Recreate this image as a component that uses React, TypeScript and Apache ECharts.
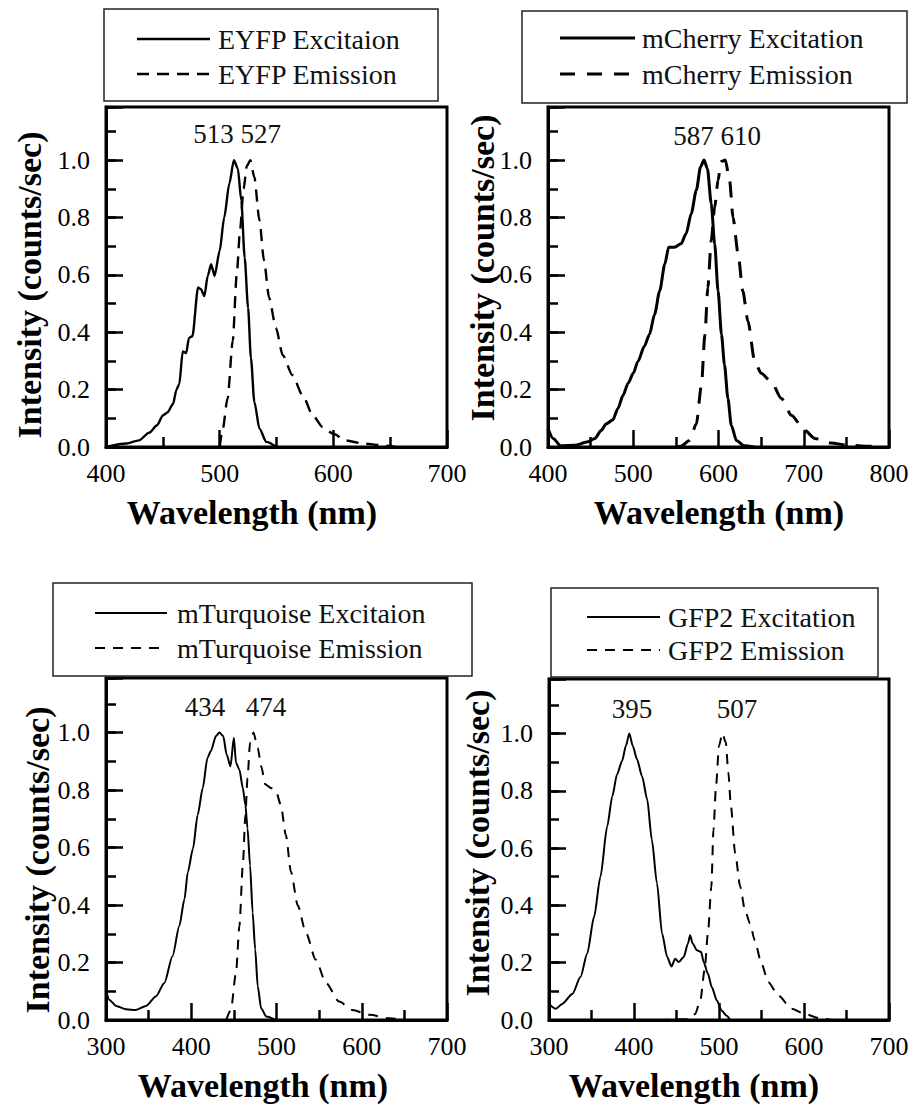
import React, { useEffect, useRef } from "react";
import * as echarts from "echarts";

// ---- data (wavelength nm, normalized intensity) ----
const eyfpExcitation: [number, number][] = [
  [400, 0], [418, 0.012], [429, 0.023], [438, 0.05], [445, 0.076], [450, 0.11], [454, 0.12],
  [459, 0.15], [462, 0.2], [464.5, 0.22], [467.5, 0.333], [470.5, 0.327], [473, 0.38], [476, 0.386],
  [481, 0.556], [483.5, 0.55], [486.5, 0.526], [489.5, 0.596], [492.5, 0.637], [495.5, 0.596],
  [500, 0.684], [504, 0.8], [508.5, 0.918], [512.5, 1.0], [516, 0.97], [519, 0.86], [522, 0.66],
  [525, 0.485], [527.5, 0.31], [530.5, 0.158], [535, 0.064], [541, 0.018], [550, 0],
];
const eyfpEmission: [number, number][] = [
  [500, 0], [502.5, 0.058], [507, 0.17], [511.5, 0.37], [515, 0.6], [518, 0.76], [521, 0.9],
  [524, 0.98], [527, 1.0], [530.5, 0.94], [535, 0.79], [539, 0.65], [543.5, 0.52], [549.5, 0.415],
  [555.5, 0.32], [564, 0.25], [573, 0.18], [582, 0.11], [590.5, 0.07], [599.5, 0.047], [611, 0.023],
  [626, 0.012], [643, 0.006], [655, 0],
];
const mCherryExcitation: [number, number][] = [
  [400, 0.064], [406, 0.03], [415, 0.004], [431, 0.006], [447, 0.018], [455, 0.03], [462.5, 0.058],
  [468, 0.08], [476, 0.094], [482, 0.134], [488, 0.18], [494, 0.222], [500, 0.257], [505.5, 0.298],
  [513, 0.351], [519, 0.392], [525, 0.462], [531, 0.544], [537, 0.637], [541.5, 0.696], [548.5, 0.696],
  [556, 0.708], [562, 0.743], [568, 0.813], [574, 0.895], [579, 0.977], [583, 1.0], [587, 0.97],
  [591.5, 0.848], [595.5, 0.708], [599.5, 0.544], [603.5, 0.392], [607, 0.287], [611, 0.17],
  [615, 0.076], [621, 0.023], [630, 0.004], [642, 0],
];
const mCherryEmission: [number, number][] = [
  [550, 0], [556, 0.003], [566, 0.023], [574, 0.08], [580, 0.216], [584, 0.39], [587.5, 0.555],
  [591.5, 0.72], [595.5, 0.836], [599.5, 0.93], [603, 0.994], [608, 1.0], [613, 0.93], [617, 0.8],
  [623, 0.673], [628.5, 0.544], [634.5, 0.439], [642.5, 0.298], [650, 0.257], [662, 0.228],
  [673.5, 0.17], [685.5, 0.111], [701, 0.058], [713, 0.03], [732, 0.014], [752, 0.006], [775, 0.003],
  [791, 0],
];
const mTurquoiseExcitation: [number, number][] = [
  [300, 0.105], [304, 0.07], [312, 0.049], [323.5, 0.037], [335, 0.035], [347, 0.049], [358.5, 0.082],
  [368.5, 0.129], [378, 0.222], [386, 0.327], [392, 0.42], [396, 0.515], [402, 0.596], [407.5, 0.713],
  [413.5, 0.807], [419, 0.912], [423, 0.936], [429, 0.988], [433, 1.0], [437.5, 0.988], [441.5, 0.924],
  [446, 0.883], [450, 0.982], [452.5, 0.895], [456.5, 0.871], [460.5, 0.807], [463.5, 0.749],
  [466, 0.667], [469, 0.538], [472, 0.374], [475, 0.246], [478, 0.117], [482, 0.041], [488, 0.012],
  [499, 0],
];
const mTurquoiseEmission: [number, number][] = [
  [441, 0], [446.5, 0.035], [452.5, 0.164], [456.5, 0.327], [460.5, 0.538], [463.5, 0.713],
  [466, 0.842], [469, 0.965], [473, 1.0], [478, 0.947], [482, 0.883], [487, 0.819], [493.5, 0.807],
  [499.5, 0.795], [505, 0.749], [511, 0.643], [517, 0.515], [525, 0.398], [534.5, 0.304], [546, 0.21],
  [558, 0.129], [573.5, 0.064], [589, 0.035], [609, 0.018], [632, 0.006], [652, 0],
];
const gfp2Excitation: [number, number][] = [
  [300, 0.056], [308, 0.039], [315.5, 0.056], [327.5, 0.091], [337, 0.15], [345, 0.232], [353, 0.36],
  [360.5, 0.5], [368.5, 0.676], [374.5, 0.781], [380, 0.857], [386, 0.904], [390.5, 0.957],
  [394.5, 1.0], [398.5, 0.957], [403.5, 0.91], [409.5, 0.851], [415.5, 0.77], [421, 0.629],
  [427, 0.477], [433, 0.302], [439, 0.22], [444, 0.187], [448.5, 0.214], [452.5, 0.202],
  [458.5, 0.22], [463.5, 0.267], [466, 0.296], [469, 0.267], [474, 0.243], [479, 0.237],
  [482, 0.202], [487, 0.161], [491.5, 0.115], [497.5, 0.068], [503, 0.033], [509, 0.015], [513, 0],
];
const gfp2Emission: [number, number][] = [
  [430, 0], [464, 0.003], [472, 0.021], [478, 0.068], [483, 0.173], [487, 0.302], [491, 0.465],
  [493.5, 0.664], [496.5, 0.816], [500, 0.957], [504, 1.0], [508, 0.968], [511, 0.863], [514, 0.746],
  [519, 0.582], [525, 0.465], [530.5, 0.384], [536.5, 0.337], [542, 0.278], [550, 0.196],
  [558, 0.132], [570, 0.085], [585.5, 0.039], [601, 0.021], [617, 0.007], [632, 0],
];

const legendLabels = [
  ["EYFP Excitaion", "EYFP Emission"],
  ["mCherry Excitation", "mCherry Emission"],
  ["mTurquoise Excitaion", "mTurquoise Emission"],
  ["GFP2 Excitation", "GFP2 Emission"],
];
const peakLabels = [["513 527"], ["587 610"], ["434", "474"], ["395", "507"]];
const xRanges = [
  [400, 700],
  [400, 800],
  [300, 700],
  [300, 700],
];
const xTitle = "Wavelength (nm)";
const yTitle = "Intensity (counts/sec)";

const SERIF = "Liberation Serif";

// ---- layout ----
const panels = [
  {
    grid: { left: 106, top: 107, width: 341, height: 340 }, ymax: 1.185,
    ex: eyfpExcitation, em: eyfpEmission, lw: 2.4, dash: [12, 8], legDash: [12, 8],
    box: [104, 9, 334, 92], leg: { x1: 137, x2: 210, tx: 218, y1: 39, y2: 74 },
    peaks: [[237, 134]], xt: [252, 512], yt: [29, 285],
  },
  {
    grid: { left: 548, top: 107, width: 341, height: 340 }, ymax: 1.185,
    ex: mCherryExcitation, em: mCherryEmission, lw: 3, dash: [16, 11], legDash: [15, 12],
    box: [522, 11, 385, 92], leg: { x1: 560, x2: 635, tx: 642, y1: 38, y2: 74 },
    peaks: [[717, 136]], xt: [719, 512], yt: [482, 268],
  },
  {
    grid: { left: 106, top: 678, width: 341, height: 342 }, ymax: 1.19,
    ex: mTurquoiseExcitation, em: mTurquoiseEmission, lw: 2, dash: [10, 8], legDash: [10, 8],
    box: [53, 583, 419, 93], leg: { x1: 95, x2: 167, tx: 177, y1: 613, y2: 648 },
    peaks: [[205, 707], [266, 707]], xt: [263, 1085], yt: [37, 860],
  },
  {
    grid: { left: 549, top: 679, width: 340, height: 341 }, ymax: 1.19,
    ex: gfp2Excitation, em: gfp2Emission, lw: 2, dash: [10, 8], legDash: [10, 8],
    box: [551, 588, 327, 89], leg: { x1: 587, x2: 660, tx: 668, y1: 617, y2: 650 },
    peaks: [[632, 709], [737, 709]], xt: [694, 1085], yt: [477, 843],
  },
];

export default function App() {
  const ref = useRef<HTMLDivElement>(null);
  useEffect(() => {
    if (!ref.current) return;
    const chart = echarts.init(ref.current, undefined, { renderer: "svg" });

    const tickLine = { color: "#000", width: 2.5 };
    const grids = panels.map((p) => ({
      ...p.grid, show: true, borderColor: "#000", borderWidth: 3, containLabel: false,
    }));
    const xAxes = panels.map((p, i) => ({
      type: "value", gridIndex: i, min: xRanges[i][0], max: xRanges[i][1], interval: 100,
      axisLine: { show: true, onZero: false, lineStyle: { color: "#000", width: 3 } },
      axisTick: { show: true, inside: true, length: 17, lineStyle: tickLine },
      minorTick: { show: true, splitNumber: 2, length: 10, lineStyle: tickLine },
      splitLine: { show: false }, minorSplitLine: { show: false },
      axisLabel: { fontFamily: SERIF, fontWeight: "normal", fontSize: 26, color: "#000", margin: 13 },
    }));
    const yAxes: any[] = [];
    panels.forEach((p, i) => {
      yAxes.push({
        type: "value", gridIndex: i, min: 0, max: p.ymax, interval: 0.2, position: "left",
        axisLine: { show: true, onZero: false, lineStyle: { color: "#000", width: 3 } },
        axisTick: { show: true, inside: true, length: 17, lineStyle: tickLine },
        splitLine: { show: false },
        axisLabel: {
          fontFamily: SERIF, fontWeight: "normal", fontSize: 26, color: "#000", margin: 16,
          formatter: (v: number) => (v > 1.05 ? "" : v.toFixed(1)),
        },
      });
      yAxes.push({
        type: "value", gridIndex: i, min: 0, max: p.ymax, interval: 0.1, position: "left",
        axisLine: { show: false },
        axisTick: { show: true, inside: true, length: 10, lineStyle: tickLine },
        splitLine: { show: false },
        axisLabel: { show: false },
      });
    });
    const series: any[] = [];
    panels.forEach((p, i) => {
      series.push({
        type: "line", xAxisIndex: i, yAxisIndex: i * 2, data: p.ex, showSymbol: false, symbol: "none",
        smooth: 0.25, smoothMonotone: "x", lineStyle: { color: "#000", width: p.lw, type: "solid" },
      });
      series.push({
        type: "line", xAxisIndex: i, yAxisIndex: i * 2, data: p.em, showSymbol: false, symbol: "none",
        smooth: 0.25, smoothMonotone: "x", lineStyle: { color: "#000", width: p.lw, type: p.dash },
      });
    });

    const graphics: any[] = [];
    panels.forEach((p, i) => {
      graphics.push({
        type: "rect", shape: { x: p.box[0], y: p.box[1], width: p.box[2], height: p.box[3] },
        style: { fill: "#fff", stroke: "#222", lineWidth: 1.5 }, z: 10,
      });
      graphics.push({
        type: "line", shape: { x1: p.leg.x1, y1: p.leg.y1, x2: p.leg.x2, y2: p.leg.y1 },
        style: { stroke: "#000", lineWidth: p.lw }, z: 11,
      });
      graphics.push({
        type: "line", shape: { x1: p.leg.x1, y1: p.leg.y2, x2: p.leg.x2, y2: p.leg.y2 },
        style: { stroke: "#000", lineWidth: p.lw, lineDash: p.legDash }, z: 11,
      });
      [p.leg.y1, p.leg.y2].forEach((yy, k) => {
        graphics.push({
          type: "text", x: p.leg.tx, y: yy, z: 11,
          style: {
            text: legendLabels[i][k], fontFamily: SERIF, fontWeight: "normal", fontSize: 28, fill: "#111",
            align: "left", verticalAlign: "middle",
          },
        });
      });
      p.peaks.forEach((pk, k) => {
        graphics.push({
          type: "text", x: pk[0], y: pk[1], z: 11,
          style: {
            text: peakLabels[i][k], fontFamily: SERIF, fontWeight: "normal", fontSize: 27, fill: "#111",
            align: "center", verticalAlign: "middle",
          },
        });
      });
      graphics.push({
        type: "text", x: p.xt[0], y: p.xt[1], z: 11,
        style: {
          text: xTitle, fontFamily: SERIF, fontSize: 34, fontWeight: "bold", fill: "#000",
          align: "center", verticalAlign: "middle",
        },
      });
      graphics.push({
        type: "text", x: p.yt[0], y: p.yt[1], rotation: Math.PI / 2, z: 11,
        style: {
          text: yTitle, fontFamily: SERIF, fontSize: 34, fontWeight: "bold", fill: "#000",
          align: "center", verticalAlign: "middle",
        },
      });
    });

    chart.setOption({
      animation: false,
      backgroundColor: "#fff",
      textStyle: { fontFamily: SERIF },
      grid: grids,
      xAxis: xAxes,
      yAxis: yAxes,
      series,
      graphic: { elements: graphics },
    });
    return () => chart.dispose();
  }, []);
  return (
    <div
      ref={ref}
      style={{ position: "fixed", left: 0, top: 0, width: 915, height: 1105, background: "#fff" }}
    />
  );
}
